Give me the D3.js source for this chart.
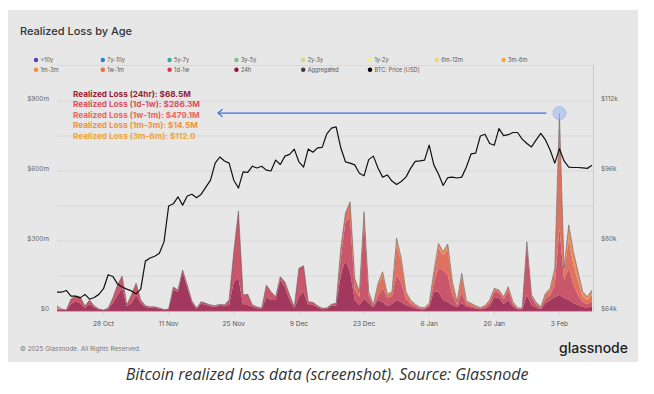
<!DOCTYPE html>
<html>
<head>
<meta charset="utf-8">
<script src="https://cdn.jsdelivr.net/npm/d3@7"></script>
<style>
  body { margin: 0; background: #fff; }
  svg { display: block; font-family: Inter, "Noto Sans", sans-serif; }
</style>
</head>
<body>
<div id="chart"></div>
<script>
// daily values, first day 18 Oct 2024
var startDate = new Date(2024, 9, 18);

// realized loss per age band, $M
var loss24h = [
  8, 6, 3, 30, 43, 34, 13, 30, 15, 6,
  3, 9, 34, 69, 97, 21, 34, 69, 34, 17,
  14, 14, 10, 5, 7, 90, 81, 167, 99, 36,
  10, 32, 26, 20, 18, 22, 20, 26, 126, 143,
  26, 26, 18, 12, 9, 60, 47, 47, 133, 103,
  47, 12, 61, 83, 26, 26, 16, 8, 9, 22,
  25, 154, 219, 168, 47, 26, 54, 34, 16, 47,
  39, 21, 30, 47, 39, 26, 18, 12, 8, 7,
  18, 83, 83, 47, 39, 26, 16, 34, 18, 15,
  10, 7, 10, 20, 60, 56, 30, 47, 18, 7,
  7, 69, 26, 15, 8, 34, 47, 60, 68.5, 56,
  47, 34, 26, 17, 15, 20
];
var loss1d1w = [
  4, 3, 1, 21, 21, 26, 8, 17, 6, 3,
  1, 4, 22, 42, 53, 5, 35, 50, 13, 6,
  4, 4, 3, 1, 2, 13, 9, 9, 12, 7,
  3, 8, 7, 6, 5, 7, 6, 21, 128, 286,
  43, 46, 8, 5, 4, 51, 36, 14, 14, 21,
  22, 6, 122, 111, 14, 11, 7, 4, 4, 7,
  8, 72, 164, 229, 43, 34, 329, 30, 7, 17,
  60, 35, 34, 107, 81, 25, 12, 8, 4, 4,
  8, 37, 101, 129, 115, 40, 10, 47, 10, 8,
  6, 4, 7, 15, 25, 22, 20, 40, 12, 4,
  4, 214, 35, 12, 5, 18, 20, 51, 286.3, 77,
  137, 77, 43, 20, 14, 20
];
var loss1w1m = [
  2, 0, 0, 0, 0, 0, 0, 0, 0, 0,
  0, 0, 0, 0, 0, 0, 0, 0, 0, 0,
  0, 0, 0, 0, 0, 0, 0, 0, 0, 0,
  0, 0, 0, 0, 0, 0, 0, 0, 0, 0,
  0, 0, 0, 0, 0, 0, 0, 0, 0, 0,
  0, 0, 0, 0, 0, 0, 0, 0, 0, 0,
  0, 43, 36, 71, 50, 23, 43, 19, 3, 45,
  55, 13, 15, 130, 90, 26, 14, 7, 3, 3,
  6, 40, 86, 63, 108, 48, 11, 66, 12, 8,
  5, 3, 5, 10, 10, 10, 9, 14, 8, 2,
  2, 12, 7, 8, 4, 20, 24, 58, 479.1, 40,
  120, 88, 56, 24, 18, 28
];
var loss1m3m = [
  8, 0, 0, 0, 0, 0, 0, 0, 0, 0,
  0, 0, 0, 0, 0, 0, 0, 0, 0, 0,
  0, 0, 0, 0, 0, 0, 0, 0, 0, 0,
  0, 0, 0, 0, 0, 0, 0, 0, 0, 0,
  0, 0, 0, 0, 0, 0, 0, 0, 0, 0,
  0, 0, 0, 0, 0, 0, 0, 0, 0, 0,
  0, 0, 0, 0, 0, 0, 0, 0, 0, 10,
  14, 3, 4, 28, 16, 6, 3, 2, 1, 0,
  1, 8, 20, 15, 25, 12, 3, 15, 3, 2,
  2, 0, 1, 2, 2, 2, 2, 3, 2, 0,
  0, 2, 1, 2, 1, 4, 6, 14, 14.5, 10,
  65, 55, 43, 22, 14, 22
];

// BTC price, $k
var priceK = [
  68.3, 68.3, 68.7, 67.4, 67.4, 67.0, 67.8, 66.7, 67.1, 67.8,
  69.1, 72.3, 71.9, 70.2, 69.5, 69.0, 68.6, 67.9, 69.0, 75.4,
  76.1, 76.5, 77.2, 79.8, 88.0, 88.5, 90.1, 88.2, 90.3, 90.7,
  89.9, 90.7, 92.3, 93.9, 97.8, 99.2, 98.3, 97.8, 93.9, 92.1,
  95.8, 95.7, 97.1, 96.7, 97.1, 96.2, 96.0, 98.5, 97.5, 99.4,
  99.8, 101.0, 98.1, 96.9, 101.0, 100.3, 101.3, 101.4, 104.5, 105.8,
  106.1, 101.3, 98.1, 97.8, 97.4, 95.5, 94.9, 98.6, 99.4, 96.7,
  94.6, 95.1, 93.7, 92.9, 93.6, 94.6, 96.6, 98.2, 98.3, 98.5,
  101.9, 97.4, 95.3, 92.7, 94.5, 94.6, 94.4, 94.6, 96.9, 99.9,
  100.1, 104.0, 104.4, 102.3, 101.9, 105.7, 104.1, 104.3, 104.8, 104.8,
  103.3, 102.3, 101.5, 103.1, 104.6, 103.1, 100.8, 97.8, 101.1, 98.3,
  96.9, 96.8, 96.8, 96.7, 96.6, 97.3
];

var layerKeys = ["h24", "d1w1", "w1m1", "m1m3"];
var layerColors = ["#a3385f", "#c9566a", "#df735f", "#ea9063"];

var xTickDates = ["2024-10-28", "2024-11-11", "2024-11-25", "2024-12-09", "2024-12-23", "2025-01-06", "2025-01-20", "2025-02-03"];
var lossTicks = [0, 300, 600, 900];
var lossGrid = [0, 150, 300, 450, 600, 750, 900];
var priceTicks = [64, 80, 96, 112];

var legendNames = [">10y", "7y-10y", "5y-7y", "3y-5y", "2y-3y", "1y-2y", "6m-12m", "3m-6m",
  "1m-3m", "1w-1m", "1d-1w", "24h", "Aggregated", "BTC: Price [USD]"];
var legendColors = ["#5b3fa6", "#2f80c2", "#38a89b", "#7dc480", "#c3df7e", "#efec93", "#f3d96c", "#f0a846",
  "#f28d3f", "#ee6b3b", "#d7394b", "#9c0b3f", "#3b3b4b", "#000000"];

var noteLines = ["Realized Loss (24hr): $68.5M", "Realized Loss (1d-1w): $286.3M", "Realized Loss (1w-1m): $479.1M",
  "Realized Loss (1m-3m): $14.5M", "Realized Loss (3m-6m): $112.0"];
var noteColors = ["#9b1c32", "#d9505f", "#ef6459", "#ee943c", "#efa53b"];
var spikeDay = 108;

var width = 654, height = 394;
var plot = { left: 57, right: 592, top: 101, bottom: 311 };

var svg = d3.select("#chart").append("svg").attr("width", width).attr("height", height);

// grey card
svg.append("rect").attr("x", 8).attr("y", 10).attr("width", 630).attr("height", 352).attr("fill", "#e7e7e7");

svg.append("text").attr("x", 20).attr("y", 35).attr("font-size", 11).attr("font-weight", 500)
  .attr("fill", "#333").text("Realized Loss by Age");

// legend, 8 per row
var legend = svg.append("g").selectAll("g").data(legendNames).enter().append("g")
  .attr("transform", function (d, i) {
    return "translate(" + (36 + (i % 8) * 66.8) + "," + (60 + Math.floor(i / 8) * 9.7) + ")";
  });
legend.append("circle").attr("r", 2.2).attr("fill", function (d, i) { return legendColors[i]; });
legend.append("text").attr("x", 4.5).attr("y", 2).attr("font-size", 5.6).attr("fill", "#555").text(function (d) { return d; });

// data rows
var rows = priceK.map(function (p, i) {
  return {
    date: d3.timeDay.offset(startDate, i),
    price: p,
    h24: loss24h[i], d1w1: loss1d1w[i], w1m1: loss1w1m[i], m1m3: loss1m3m[i]
  };
});

var x = d3.scaleTime().domain([rows[0].date, rows[rows.length - 1].date]).range([plot.left, plot.right]);
var yLoss = d3.scaleLinear().domain([0, 900]).range([plot.bottom, plot.top]);
var yPrice = d3.scaleLinear().domain([64, 112]).range([plot.bottom, plot.top]);

// frame lines
svg.append("line").attr("x1", plot.left).attr("x2", 593).attr("y1", 65.5).attr("y2", 65.5).attr("stroke", "#d4d4d4").attr("stroke-width", 0.8);
svg.append("line").attr("x1", 593.5).attr("x2", 593.5).attr("y1", 65).attr("y2", plot.bottom).attr("stroke", "#c8c8c8").attr("stroke-width", 0.9);

// grid
svg.append("g").selectAll("line").data(lossGrid).enter().append("line")
  .attr("x1", plot.left).attr("x2", 593).attr("y1", function (d) { return yLoss(d); }).attr("y2", function (d) { return yLoss(d); })
  .attr("stroke", "#d6d6d6").attr("stroke-width", 0.8);

// stacked areas
var series = d3.stack().keys(layerKeys)(rows);
var area = d3.area().x(function (d) { return x(d.data.date); })
  .y0(function (d) { return yLoss(d[0]); }).y1(function (d) { return yLoss(d[1]); });
svg.append("g").selectAll("path").data(series).enter().append("path")
  .attr("d", area).attr("fill", function (d, i) { return layerColors[i]; });

var topLine = d3.line().x(function (d) { return x(d.data.date); }).y(function (d) { return yLoss(d[1]); });
svg.append("path").datum(series[series.length - 1]).attr("d", topLine)
  .attr("fill", "none").attr("stroke", "#5f5f5f").attr("stroke-width", 0.7).attr("stroke-opacity", 0.8);
svg.append("line").attr("x1", plot.left).attr("x2", plot.right).attr("y1", plot.bottom).attr("y2", plot.bottom)
  .attr("stroke", "#b54a6d").attr("stroke-width", 0.8);

// price
var priceLine = d3.line().x(function (d) { return x(d.date); }).y(function (d) { return yPrice(d.price); });
svg.append("path").datum(rows).attr("d", priceLine).attr("fill", "none")
  .attr("stroke", "#111").attr("stroke-width", 1.2).attr("stroke-linejoin", "round");

// x axis
var parse = d3.timeParse("%Y-%m-%d");
var xTicks = xTickDates.map(parse);
var xg = svg.append("g").attr("font-size", 6.6).attr("fill", "#555");
xg.selectAll("line").data(xTicks).enter().append("line")
  .attr("x1", function (d) { return x(d); }).attr("x2", function (d) { return x(d); })
  .attr("y1", plot.bottom + 1).attr("y2", plot.bottom + 4).attr("stroke", "#cfcfcf").attr("stroke-width", 0.8);
xg.selectAll("text").data(xTicks).enter().append("text")
  .attr("x", function (d) { return x(d); }).attr("y", 326).attr("text-anchor", "middle")
  .text(d3.timeFormat("%-d %b"));

// y axes
svg.append("g").selectAll("text").data(lossTicks).enter().append("text")
  .attr("x", 49).attr("y", function (d) { return yLoss(d) - 0.5; }).attr("text-anchor", "end")
  .attr("font-size", 6.4).attr("fill", "#666").text(function (d) { return "$" + d + (d ? "m" : ""); });
svg.append("g").selectAll("text").data(priceTicks).enter().append("text")
  .attr("x", 601).attr("y", function (d) { return yPrice(d) - 0.5; })
  .attr("font-size", 6.4).attr("fill", "#666").text(function (d) { return "$" + d + "k"; });

// annotation
svg.append("g").selectAll("text").data(noteLines).enter().append("text")
  .attr("x", 73).attr("y", function (d, i) { return 96.5 + i * 10.6; })
  .attr("font-size", 8.2).attr("font-weight", 700).attr("fill", function (d, i) { return noteColors[i]; })
  .text(function (d) { return d; });

var spike = series[series.length - 1][spikeDay];
var sx = x(spike.data.date), sy = yLoss(spike[1]);
svg.append("line").attr("x1", 218).attr("x2", sx - 13).attr("y1", sy).attr("y2", sy)
  .attr("stroke", "#3d6fe2").attr("stroke-width", 1.2);
svg.append("path").attr("d", "M222.5," + (sy - 3.8) + " L218," + sy + " L222.5," + (sy + 3.8))
  .attr("fill", "none").attr("stroke", "#3d6fe2").attr("stroke-width", 1.2);
svg.append("circle").attr("cx", sx).attr("cy", sy).attr("r", 6.5)
  .attr("fill", "#9fbaf0").attr("fill-opacity", 0.6).attr("stroke", "#5d8cef").attr("stroke-width", 0.8)
  .attr("stroke-dasharray", "1,1.3");

// footer
svg.append("text").attr("x", 20).attr("y", 351).attr("font-size", 6.4).attr("fill", "#777")
  .text("\u00a9 2025 Glassnode. All Rights Reserved.");
svg.append("text").attr("x", 628).attr("y", 353).attr("text-anchor", "end").attr("font-size", 14)
  .attr("font-weight", 500).attr("fill", "#1e1e1e").text("glassnode");

svg.append("text").attr("x", 327).attr("y", 380).attr("text-anchor", "middle")
  .attr("font-family", "'Open Sans', sans-serif").attr("font-style", "italic").attr("font-size", 16)
  .attr("fill", "#333").text("Bitcoin realized loss data (screenshot). Source: Glassnode");
</script>
</body>
</html>
